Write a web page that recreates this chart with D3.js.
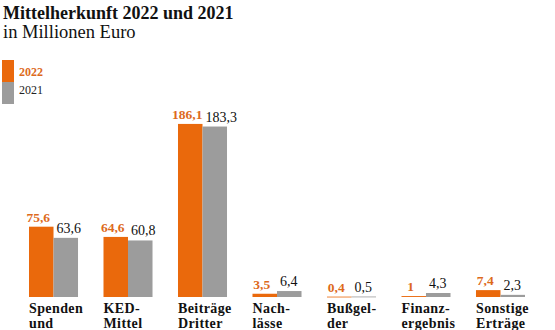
<!DOCTYPE html>
<html>
<head>
<meta charset="utf-8">
<script src="https://cdn.jsdelivr.net/npm/d3@7"></script>
<style>
  body { margin: 0; background: #fff; }
  svg text { font-family: "Liberation Serif", "DejaVu Serif", serif; }
</style>
</head>
<body>
<div id="chart"></div>
<script>
// Kategorien (zweizeilige Beschriftung) und Werte in Mio. Euro
const categories = ["Spenden", "KED", "Beitraege", "Nachlaesse", "Bussgelder", "Finanz", "Sonstige"]
const labelLines = [
  ["Spenden", "und"],
  ["KED-", "Mittel"],
  ["Beiträge", "Dritter"],
  ["Nach-", "lässe"],
  ["Bußgel-", "der"],
  ["Finanz-", "ergebnis"],
  ["Sonstige", "Erträge"]
]
const years = ["2022", "2021"]
const values2022 = [75.6, 64.6, 186.1, 3.5, 0.4, 1, 7.4]
const values2021 = [63.6, 60.8, 183.3, 6.4, 0.5, 4.3, 2.3]

const width = 555
const height = 330
const orange = "#ea690c"
const orangeText = "#dd6a1c"
const grey = "#9c9c9c"

const fmt = (v) => String(v).replace(".", ",")

const svg = d3.select("#chart")
  .append("svg")
  .attr("width", width)
  .attr("height", height)

// Titel
svg.append("text")
  .attr("x", 3).attr("y", 19)
  .attr("font-size", "18px")
  .attr("font-weight", "bold")
  .attr("fill", "#111")
  .text("Mittelherkunft 2022 und 2021")

svg.append("text")
  .attr("x", 3).attr("y", 38)
  .attr("font-size", "18.5px")
  .attr("fill", "#111")
  .text("in Millionen Euro")

// Legende
const legend = svg.append("g")
legend.append("rect").attr("x", 2).attr("y", 60).attr("width", 12).attr("height", 22).attr("fill", orange)
legend.append("rect").attr("x", 2).attr("y", 82).attr("width", 12).attr("height", 22).attr("fill", grey)
legend.append("text").attr("x", 19).attr("y", 76)
  .attr("font-size", "12px").attr("font-weight", "bold").attr("fill", orangeText).text(years[0])
legend.append("text").attr("x", 19).attr("y", 94)
  .attr("font-size", "12px").attr("fill", "#222").text(years[1])

// Skalen
const baseline = 297
const x = d3.scaleBand()
  .domain(categories)
  .range([29, 525])
  .paddingInner(0.342)
  .paddingOuter(0)

const xYear = d3.scaleBand()
  .domain(years)
  .range([0, x.bandwidth()])

const y = d3.scaleLinear()
  .domain([0, 200])
  .range([baseline, baseline - 186])

const data = categories.map((c, i) => ({
  cat: c,
  lines: labelLines[i],
  vals: [
    { year: years[0], v: values2022[i] },
    { year: years[1], v: values2021[i] }
  ]
}))

const group = svg.append("g")
  .selectAll("g")
  .data(data)
  .join("g")
  .attr("transform", (d) => `translate(${x(d.cat)},0)`)

group.selectAll("rect")
  .data((d) => d.vals)
  .join("rect")
  .attr("x", (d) => xYear(d.year))
  .attr("y", (d) => y(d.v))
  .attr("width", xYear.bandwidth())
  .attr("height", (d) => Math.max(baseline - y(d.v), 0.8))
  .attr("fill", (d) => d.year === years[0] ? orange : grey)

// Wertbeschriftungen: 2022 fett über dem orangen Balken, 2021 ab linker Kante des grauen
group.selectAll("text.value")
  .data((d) => d.vals)
  .join("text")
  .attr("class", "value")
  .attr("x", (d) => d.year === years[0]
    ? xYear(d.year) + xYear.bandwidth() / 2 - 3
    : xYear(d.year) + 3)
  .attr("y", (d) => y(d.v) - 5)
  .attr("text-anchor", (d) => d.year === years[0] ? "middle" : "start")
  .attr("font-size", (d) => d.year === years[0] ? "13.5px" : "14px")
  .attr("font-weight", (d) => d.year === years[0] ? "bold" : "normal")
  .attr("fill", (d) => d.year === years[0] ? orangeText : "#111")
  .text((d) => fmt(d.v))

// Kategorienbeschriftungen
group.append("text")
  .attr("class", "cat")
  .attr("font-size", "14px")
  .attr("font-weight", "bold")
  .attr("letter-spacing", "0.4px")
  .attr("fill", "#111")
  .selectAll("tspan")
  .data((d) => d.lines)
  .join("tspan")
  .attr("x", 0)
  .attr("y", (d, i) => 313 + i * 15)
  .text((d) => d)
</script>
</body>
</html>
